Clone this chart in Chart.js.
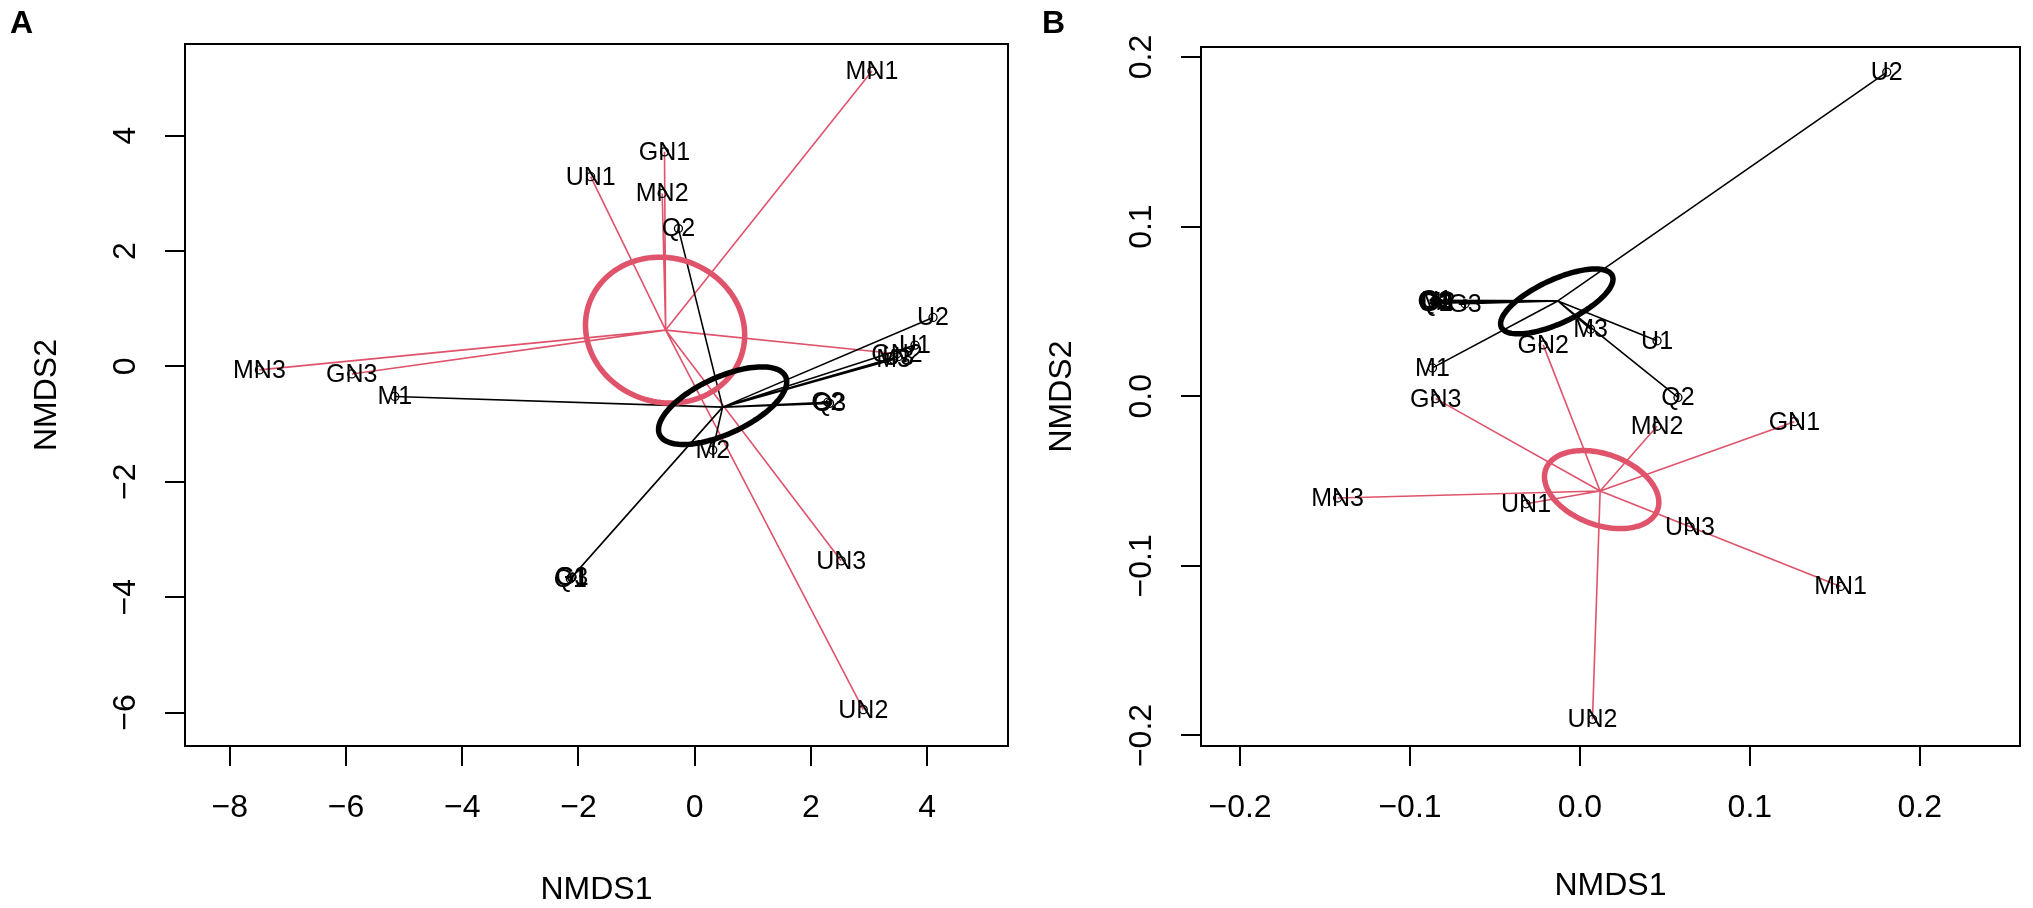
<!DOCTYPE html>
<html>
<head>
<meta charset="utf-8">
<script src="https://cdn.jsdelivr.net/npm/chart.js@4.4.0/dist/chart.umd.min.js"></script>
<style>
  html, body { margin: 0; padding: 0; background: #fff; }
  body { width: 2033px; height: 908px; position: relative; overflow: hidden; }
  canvas { position: absolute; top: 0; }
  #chartA { left: 0; }
  #chartB { left: 1016px; }
</style>
</head>
<body>
<canvas id="chartA" width="1016" height="908"></canvas>
<canvas id="chartB" width="1017" height="908"></canvas>
<script>
// ---------- panel A ----------
const labelsA_black = ['Q1', 'G1', 'G3', 'Q2', 'Q3', 'G2', 'M1', 'M2', 'M3', 'U1', 'U2', 'U3'];
const xA_black = [-2.14, -2.11, -2.12, -0.28, 2.32, 2.29, -5.16, 0.31, 3.42, 3.79, 4.10, 3.50];
const yA_black = [-3.68, -3.65, -3.66, 2.39, -0.64, -0.62, -0.52, -1.45, 0.12, 0.37, 0.85, 0.17];

const labelsA_red = ['GN1', 'GN2', 'GN3', 'MN1', 'MN2', 'MN3', 'UN1', 'UN2', 'UN3'];
const xA_red = [-0.52, 3.48, -5.90, 3.05, -0.56, -7.49, -1.79, 2.90, 2.52];
const yA_red = [3.72, 0.22, -0.13, 5.12, 3.00, -0.06, 3.29, -5.95, -3.37];

// spider hubs [x, y] and ellipses [cx, cy, a, b, angle deg]
const hubA_black = [0.48, -0.705];
const hubA_red = [-0.50, 0.63];
const ellA_black = [0.48, -0.68, 1.195, 0.49, 25];
const ellA_red = [-0.51, 0.63, 1.385, 1.248, -20];

const xTicksA = [-8, -6, -4, -2, 0, 2, 4];
const yTicksA = [-6, -4, -2, 0, 2, 4];
const xRangeA = [-8.77, 5.39];
const yRangeA = [-6.58, 5.59];

// ---------- panel B ----------
const labelsB_black = ['Q1', 'Q3', 'G1', 'G2', 'U3', 'M2', 'G3', 'M1', 'M3', 'U1', 'U2', 'Q2'];
const xB_black = [-0.0858, -0.0852, -0.0848, -0.0845, -0.0840, -0.0835, -0.0676, -0.0868, 0.0063, 0.0454, 0.1806, 0.0577];
const yB_black = [0.0560, 0.0552, 0.0565, 0.0548, 0.0558, 0.0555, 0.0545, 0.0167, 0.0395, 0.0327, 0.1911, -0.0007];

const labelsB_red = ['GN1', 'GN2', 'GN3', 'MN1', 'MN2', 'MN3', 'UN1', 'UN2', 'UN3'];
const xB_red = [0.1262, -0.0216, -0.0849, 0.1534, 0.0454, -0.1426, -0.0317, 0.0074, 0.0648];
const yB_red = [-0.0150, 0.0303, -0.0014, -0.1121, -0.0177, -0.0600, -0.0634, -0.1905, -0.0770];

const hubB_black = [-0.013, 0.0562];
const hubB_red = [0.0119, -0.0559];
const ellB_black = [-0.0136, 0.0559, 0.036, 0.0128, 25];
const ellB_red = [0.0128, -0.055, 0.035, 0.0209, -20];

const xTicksB = [-0.2, -0.1, 0.0, 0.1, 0.2];
const yTicksB = [-0.2, -0.1, 0.0, 0.1, 0.2];
const xRangeB = [-0.223, 0.259];
const yRangeB = [-0.2062, 0.2059];

const RED = '#DF536B';
const FONT = '"Liberation Sans", Arial, Helvetica, sans-serif';
Chart.defaults.font.family = FONT;
Chart.defaults.color = '#000';

function pts(xs, ys) {
  return xs.map((x, i) => ({x: x, y: ys[i]}));
}
function spider(hub, xs, ys) {
  const d = [];
  xs.forEach((x, i) => {
    d.push({x: hub[0], y: hub[1]}, {x: x, y: ys[i]}, {x: null, y: null});
  });
  return d;
}
const minus = s => s.replace('-', '\u2212');

// extra drawing per canvas: labels, ellipses, box, panel letter
const extras = {
  chartA: {
    letter: 'A', letterX: 10,
    ellipses: [[ellA_red, RED], [ellA_black, '#000']],
    labels: [[labelsA_red, xA_red, yA_red], [labelsA_black, xA_black, yA_black]]
  },
  chartB: {
    letter: 'B', letterX: 26,
    ellipses: [[ellB_red, RED], [ellB_black, '#000']],
    labels: [[labelsB_red, xB_red, yB_red], [labelsB_black, xB_black, yB_black]]
  }
};

const nmdsPlugin = {
  id: 'nmds',
  afterDatasetsDraw(chart) {
    const ex = extras[chart.canvas.id];
    const {ctx, chartArea, scales: {x, y}} = chart;
    ctx.save();
    // ellipses
    ex.ellipses.forEach(([e, col]) => {
      const [cx, cy, a, b, ang] = e;
      const th = ang * Math.PI / 180;
      ctx.beginPath();
      for (let k = 0; k <= 120; k++) {
        const t = k / 120 * 2 * Math.PI;
        const ex1 = cx + a * Math.cos(t) * Math.cos(th) - b * Math.sin(t) * Math.sin(th);
        const ey1 = cy + a * Math.cos(t) * Math.sin(th) + b * Math.sin(t) * Math.cos(th);
        const px = x.getPixelForValue(ex1), py = y.getPixelForValue(ey1);
        if (k === 0) ctx.moveTo(px, py); else ctx.lineTo(px, py);
      }
      ctx.closePath();
      ctx.lineWidth = 5.5;
      ctx.strokeStyle = col;
      ctx.stroke();
    });
    // point labels
    ctx.fillStyle = '#000';
    ctx.font = '25px ' + FONT;
    ctx.textAlign = 'center';
    ctx.textBaseline = 'middle';
    ex.labels.forEach(([labs, xs, ys]) => {
      labs.forEach((l, i) => {
        ctx.fillText(l, x.getPixelForValue(xs[i]), y.getPixelForValue(ys[i]) + 1);
      });
    });
    // box
    ctx.lineWidth = 2;
    ctx.strokeStyle = '#000';
    ctx.strokeRect(chartArea.left, chartArea.top, chartArea.right - chartArea.left, chartArea.bottom - chartArea.top);
    // panel letter
    ctx.font = 'bold 32px ' + FONT;
    ctx.textAlign = 'left';
    ctx.textBaseline = 'alphabetic';
    ctx.fillText(ex.letter, ex.letterX, 33);
    ctx.restore();
  }
};

function makeChart(id, d) {
  return new Chart(document.getElementById(id), {
    type: 'scatter',
    data: {
      datasets: [
        {data: pts(d.xb, d.yb), pointRadius: 4, pointBorderColor: '#000', pointBackgroundColor: 'rgba(0,0,0,0)', pointBorderWidth: 1.3, order: 0},
        {data: pts(d.xr, d.yr), pointRadius: 4, pointBorderColor: '#000', pointBackgroundColor: 'rgba(0,0,0,0)', pointBorderWidth: 1.3, order: 0},
        {type: 'line', data: spider(d.hb, d.xb, d.yb), borderColor: '#000', borderWidth: 1.6, pointRadius: 0, spanGaps: false, tension: 0, order: 2},
        {type: 'line', data: spider(d.hr, d.xr, d.yr), borderColor: RED, borderWidth: 1.6, pointRadius: 0, spanGaps: false, tension: 0, order: 2}
      ]
    },
    options: {
      responsive: false,
      animation: false,
      devicePixelRatio: 1,
      layout: {padding: d.pad},
      plugins: {legend: {display: false}, tooltip: {enabled: false}},
      scales: {
        x: {
          type: 'linear', min: d.xr0[0], max: d.xr0[1],
          afterBuildTicks: s => { s.ticks = d.xt.map(v => ({value: v})); },
          afterFit: s => { s.height = 162; },
          grid: {drawOnChartArea: false, drawTicks: true, tickLength: 20, color: '#000', lineWidth: 2},
          border: {display: false},
          ticks: {font: {size: 32, lineHeight: 1}, color: '#000', padding: 26, autoSkip: false,
                  maxRotation: 0, callback: d.fmt},
          title: {display: true, text: 'NMDS1', font: {size: 32, lineHeight: 1}, color: '#000',
                  padding: {top: 0, bottom: d.xTitlePad}}
        },
        y: {
          type: 'linear', min: d.yr0[0], max: d.yr0[1],
          afterBuildTicks: s => { s.ticks = d.yt.map(v => ({value: v})); },
          afterFit: s => { s.width = 185; },
          grid: {drawOnChartArea: false, drawTicks: true, tickLength: 20, color: '#000', lineWidth: 2},
          border: {display: false},
          ticks: {font: {size: 32, lineHeight: 1}, color: '#000', padding: d.yTickPad, autoSkip: false,
                  minRotation: 90, maxRotation: 90, crossAlign: 'center', callback: d.fmt},
          title: {display: true, text: 'NMDS2', font: {size: 32, lineHeight: 1}, color: '#000',
                  padding: {top: d.yTitlePad, bottom: 0}}
        }
      }
    },
    plugins: [nmdsPlugin]
  });
}

makeChart('chartA', {
  xb: xA_black, yb: yA_black, xr: xA_red, yr: yA_red, hb: hubA_black, hr: hubA_red,
  xt: xTicksA, yt: yTicksA, xr0: xRangeA, yr0: yRangeA,
  pad: {left: 0, right: 8, top: 44, bottom: 0},
  fmt: v => minus(String(v)), yTickPad: 21, xTitlePad: 2, yTitlePad: 31
});

makeChart('chartB', {
  xb: xB_black, yb: yB_black, xr: xB_red, yr: yB_red, hb: hubB_black, hr: hubB_red,
  xt: xTicksB, yt: yTicksB, xr0: xRangeB, yr0: yRangeB,
  pad: {left: 0, right: 13, top: 47, bottom: 0},
  fmt: v => minus(Number(v).toFixed(1)), yTickPad: 7, xTitlePad: 6, yTitlePad: 30
});
</script>
</body>
</html>
